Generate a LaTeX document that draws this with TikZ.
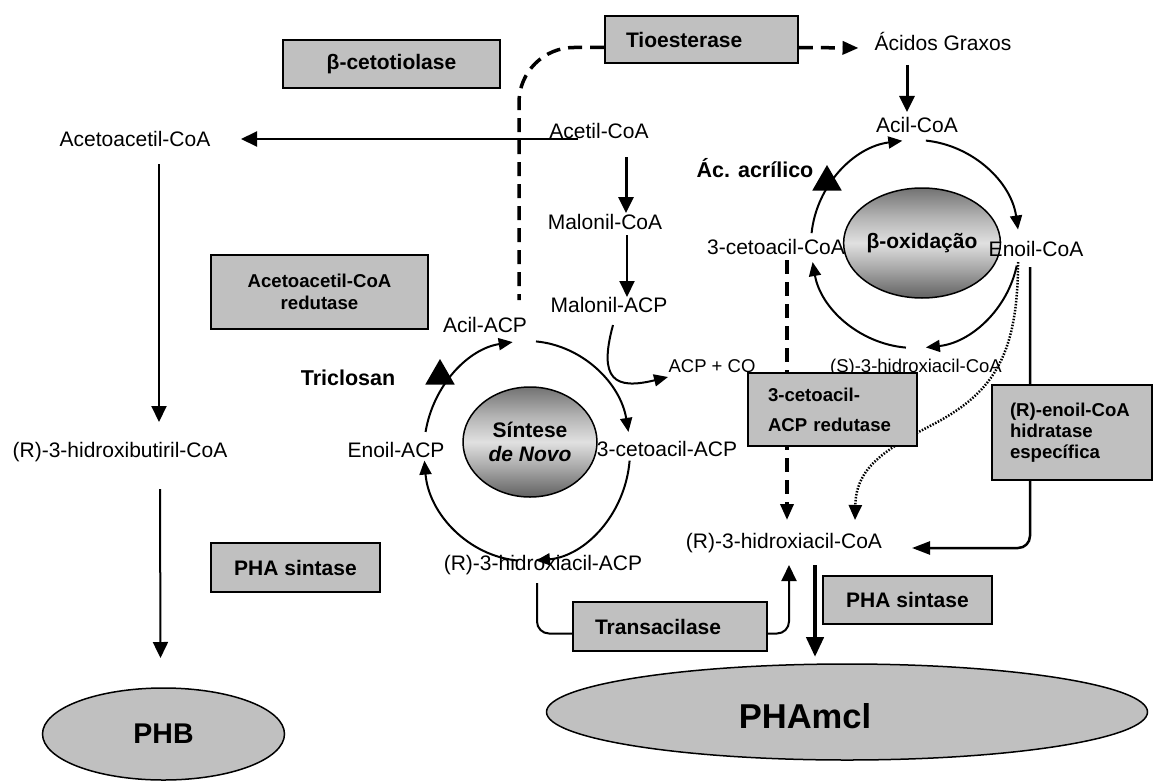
\documentclass[tikz,border=0pt]{standalone}
\usepackage{fontspec}
\setmainfont{Liberation Sans}
\usetikzlibrary{arrows.meta,shapes.geometric}
\definecolor{boxgray}{HTML}{C0C0C0}
\pgfdeclareverticalshading{cyclegray}{100bp}{color(0bp)=(black!62); color(25bp)=(black!62); color(38bp)=(black!35); color(50bp)=(black!12); color(62bp)=(black!30); color(75bp)=(black!55); color(100bp)=(black!55)}
\begin{document}
\begin{tikzpicture}[x=1pt,y=-1pt,
  lbl/.style={font=\fontsize{21}{25}\selectfont, inner sep=0pt, text height=15pt, text depth=4pt},
  sml/.style={font=\fontsize{18.5}{22}\selectfont, inner sep=0pt, text height=13pt, text depth=3.5pt},
  blbl/.style={font=\bfseries\fontsize{21.5}{25}\selectfont, inner sep=0pt, text height=15pt, text depth=4pt},
  enz/.style={draw, line width=1.8pt, fill=boxgray, font=\bfseries\fontsize{21}{25}\selectfont, inner sep=0pt, align=center},
  enzs/.style={enz, font=\bfseries\fontsize{18.6}{22}\selectfont},
  grad/.style={ellipse, draw, line width=1.5pt, shading=cyclegray, minimum width=134pt, minimum height=110pt, inner sep=0pt, align=center, font=\bfseries\fontsize{21}{24}\selectfont},
  prod/.style={ellipse, draw, line width=1.5pt, fill=boxgray, inner sep=0pt},
  tri/.style={regular polygon, regular polygon sides=3, fill=black, minimum size=34pt, inner sep=0pt},
  arr/.style={line width=2pt, -{Triangle[length=16pt,width=15pt]}},
  tarr/.style={line width=3pt, -{Triangle[length=16pt,width=15pt]}},
  xarr/.style={line width=4.5pt, -{Triangle[length=20pt,width=17pt]}},
  carr/.style={line width=2pt, -{Triangle[length=14pt,width=12pt]}},
  dsh/.style={line width=3.5pt, dash pattern=on 14pt off 8pt},
  darr/.style={dsh, -{Triangle[length=16pt,width=13pt]}},
  dotarr/.style={line width=2.5pt, dash pattern=on 1.5pt off 1.5pt, -{Triangle[length=15pt,width=13pt]}}
]
\useasboundingbox (0,0) rectangle (1155,781);
\fill[white] (0,0) rectangle (1155,781);

% cycles and products
\node[grad] (sintese) at (530,442) {Síntese\\\textit{de Novo}};
\node[grad] (boxid) at (922,243) {β-oxidação};
\node[prod, minimum width=242pt, minimum height=92pt, font=\bfseries\fontsize{28.5}{32}\selectfont] (phb) at (163.5,734) {PHB};
\node[prod, minimum width=601pt, minimum height=96pt] (phamcl) at (847,712) {};
\node[font=\bfseries\fontsize{34.5}{38}\selectfont, inner sep=0pt] (phamcltxt) at (805,716) {PHAmcl};

% metabolites
\node[lbl] (acetoacetil) at (135,141) {Acetoacetil-CoA};
\node[lbl] (acetil) at (599,133) {Acetil-CoA};
\node[lbl] (malonilcoa) at (605,224) {Malonil-CoA};
\node[lbl] (malonilacp) at (609,307) {Malonil-ACP};
\node[lbl] (acilacp) at (485,327) {Acil-ACP};
\node[blbl] (triclosan) at (348,380) {Triclosan};
\node[lbl] (cetoacp) at (667,451) {3-cetoacil-ACP};
\node[lbl] (enoilacp) at (396,452) {Enoil-ACP};
\node[lbl] (hidroxiacp) at (543,565) {(R)-3-hidroxiacil-ACP};
\node[lbl] (hidroxicoa) at (784,543) {(R)-3-hidroxiacil-CoA};
\node[lbl] (hidroxibut) at (120,452) {(R)-3-hidroxibutiril-CoA};
\node[sml] (acpco) at (712,368) {ACP + CO};
\node[sml] (shidroxi) at (916,368) {(S)-3-hidroxiacil-CoA};
\node[lbl] (enoilcoa) at (1036,251) {Enoil-CoA};
\node[lbl] (cetoacoa) at (776,249) {3-cetoacil-CoA};
\node[lbl] (acilcoa) at (917,127) {Acil-CoA};
\node[lbl] (acidos) at (943,45) {Ácidos Graxos};
\node[blbl] (acrilico) at (755,172) {Ác. acrílico};

% enzymes (not covering lines)
\node[enz, text width=151pt, align=left, inner xsep=21pt, minimum height=47pt] (tio) at (701.5,39.5) {Tioesterase};
\node[enz, minimum width=217pt, minimum height=48pt] (betacet) at (391.5,64) {β-cetotiolase};
\node[enzs, minimum width=217pt, minimum height=74pt] (acred) at (319.5,292) {Acetoacetil-CoA\\redutase};
\node[enz, minimum width=169pt, minimum height=49pt] (phasl) at (295.5,567.5) {PHA sintase};
\node[enz, minimum width=169pt, minimum height=48pt] (phasr) at (907.5,600) {PHA sintase};
\node[enz, text width=150pt, align=left, inner xsep=22pt, minimum height=49pt] (trans) at (670,626.5) {Transacilase};

% Sintese de novo cycle
\coordinate (scyc) at ([shift={(-3,9)}]sintese.center);
\draw[carr] ([shift={(85:103pt and 110pt)}]scyc) arc[start angle=85,end angle=10,x radius=103pt,y radius=110pt];
\draw[carr] ([shift={(-5:103pt and 110pt)}]scyc) arc[start angle=-5,end angle=-85,x radius=103pt,y radius=110pt];
\draw[carr] ([shift={(-95:103pt and 110pt)}]scyc) arc[start angle=-95,end angle=-175,x radius=103pt,y radius=110pt];
\draw[carr] ([shift={(170:103pt and 110pt)}]scyc) arc[start angle=170,end angle=98,x radius=103pt,y radius=110pt];
\node[tri] (tri1) at ([shift={(-87,-75)}]scyc) {};

% beta-oxidation cycle
\coordinate (bcyc) at ([shift={(-7,1)}]boxid.center);
\draw[carr] ([shift={(174:104pt)}]bcyc) arc[start angle=174,end angle=97,radius=104pt];
\draw[carr] ([shift={(84:104pt)}]bcyc) arc[start angle=84,end angle=8,radius=104pt];
\draw[carr] ([shift={(-12:104pt)}]bcyc) arc[start angle=-12,end angle=-84,radius=104pt];
\draw[carr] ([shift={(-95:104pt)}]bcyc) arc[start angle=-95,end angle=-170,radius=104pt];
\node[tri] (tri2) at ([shift={(-88,-62)}]bcyc) {};

% connectors
\draw[arr] ([shift={(-21,6)}]acetil.center) -- ([shift={(106,-2)}]acetoacetil.center);
\draw[tarr] ([shift={(27,24)}]acetil.center) -- ([shift={(21,-11)}]malonilcoa.center);
\draw[arr] ([shift={(22,11)}]malonilcoa.center) -- ([shift={(18,-10)}]malonilacp.center);
\draw[carr] ([shift={(4,18)}]malonilacp.center) .. controls ([shift={(-11,73)}]malonilacp.center) and ([shift={(6,83)}]malonilacp.center) .. ([shift={(-44,9)}]acpco.center);
\draw[dsh, rounded corners=55pt] ([yshift=-8pt]tio.west) -| ([shift={(34,-27)}]acilacp.center);
\draw[darr] ([yshift=-8pt]tio.east) -- ([shift={(-16,3)}]acidos.west);
\draw[tarr] ([shift={(-36,20)}]acidos.center) -- ([shift={(-10,-15)}]acilcoa.center);
\draw[line width=2.5pt, rounded corners=12pt, -{Triangle[length=18pt,width=13pt]}] ([shift={(-6,16)}]enoilcoa.center) |- ([shift={(128,5)}]hidroxicoa.center);
\draw[dotarr] ([shift={(-18,11)}]enoilcoa.center) .. controls ([shift={(-18,109)}]enoilcoa.center) and ([shift={(-46,144)}]enoilcoa.center) .. ([shift={(-106,175)}]enoilcoa.center) .. controls ([shift={(96,-91)}]hidroxicoa.center) and ([shift={(72,-73)}]hidroxicoa.center) .. ([shift={(71,-23)}]hidroxicoa.center);
\draw[darr] ([shift={(11,11)}]cetoacoa.center) -- ([shift={(3,-23)}]hidroxicoa.center);
\draw[xarr] ([shift={(31,22)}]hidroxicoa.center) -- ([shift={(-32,-55)}]phamcl.center);
\draw[line width=2pt, rounded corners=12pt] ([shift={(-6,18)}]hidroxiacp.center) |- ([yshift=-7pt]trans.west);
\draw[arr, rounded corners=12pt] ([yshift=-7pt]trans.east) -| ([shift={(5,22)}]hidroxicoa.center);
\draw[arr] ([shift={(24,23)}]acetoacetil.center) -- ([shift={(39,-30)}]hidroxibut.center);
\draw[arr] ([shift={(40,37)}]hidroxibut.center) -- ([shift={(-3,-76)}]phb.center);

% enzymes drawn over lines
\node[enzs, font=\bfseries\fontsize{18.6}{30}\selectfont, text width=129pt, align=left, inner xsep=20pt, minimum height=73pt] (ketored) at (832.5,409.5) {3-cetoacil-\\ACP redutase};
\node[enzs, font=\bfseries\fontsize{18.6}{21}\selectfont, text width=124pt, align=left, inner xsep=18pt, minimum height=95pt] (enoilhid) at (1072,432.5) {(R)-enoil-CoA\\hidratase\\específica};
\end{tikzpicture}
\end{document}
